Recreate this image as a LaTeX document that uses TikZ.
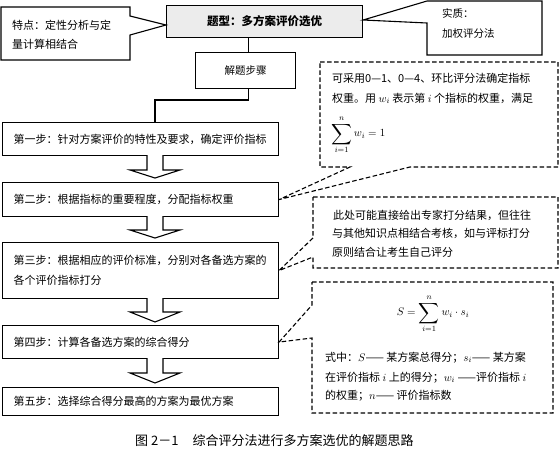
\documentclass[tikz,border=0pt]{standalone}
\usepackage{fontspec}
\newfontfamily\cjk{Noto Sans CJK SC}
\usetikzlibrary{calc}
\newcommand\bigsigma{\mathop{\vcenter{\hbox{\scalebox{1.45}{$\displaystyle\sum$}}}}\limits}
\begin{document}
\begin{tikzpicture}[x=1pt,y=-1pt,
  line/.style={line width=1.1pt,line join=miter},
  dline/.style={line width=1.1pt,dash pattern=on 4.5pt off 2.5pt},
  stepbox/.style={draw,line width=1.1pt,anchor=north west,minimum width=276pt,text width=254pt,inner xsep=11pt,inner ysep=0pt,align=left,font=\cjk\fontsize{11}{20}\selectfont},
  ln/.style={anchor=base west,inner sep=0pt,font=\cjk\fontsize{11}{13}\selectfont},
  hollow/.style={line width=1.1pt,fill=white}
]
\useasboundingbox (0,0) rectangle (560,453);

% title and heading boxes
\node[draw,line width=1.1pt,anchor=north west,minimum width=196pt,minimum height=32pt,fill=gray!15,font=\cjk\bfseries\fontsize{11.5}{13}\selectfont] (title) at (166,5) {题型：多方案评价选优};
\node[draw,line width=1.1pt,anchor=north west,minimum width=100pt,minimum height=36pt,font=\cjk\fontsize{10.5}{12}\selectfont] (jt) at (195,52) {解题步骤};

% steps
\node[stepbox,minimum height=33pt] (s1) at (2,122) {第一步：针对方案评价的特性及要求，确定评价指标};
\node[stepbox,minimum height=34pt] (s2) at (2,182) {第二步：根据指标的重要程度，分配指标权重};
\node[stepbox,minimum height=56pt] (s3) at (2,242) {第三步：根据相应的评价标准，分别对各备选方案的\\各个评价指标打分};
\node[stepbox,minimum height=33pt] (s4) at (2,325) {第四步：计算各备选方案的综合得分};
\node[stepbox,minimum height=28pt] (s5) at (2,387) {第五步：选择综合得分最高的方案为最优方案};

% connectors
\draw[line] ([xshift=3pt]jt.north) -- ([xshift=3pt]jt.north |- title.south);
\coordinate (e1) at (155,100);
\draw[line] ([xshift=3pt]jt.south) |- (e1) -- (e1 |- s1.north);

% hollow arrows between steps
\foreach \t/\h/\p in {155/170/178, 216/230/238, 298/312/322, 358/373/383}
  \draw[hollow] (147,\t) -- (147,\h) -- (130,\h) -- (155,\p) -- (180,\h) -- (163,\h) -- (163,\t);

% left callout
\draw[line] (1,7) -- (130,7) -- (130,16) -- (title.west |- 0,25) -- (130,35) -- (130,60) -- (1,60) -- cycle;
\node[ln] (l1) at (12,29) {特点：定性分析与定};
\node[ln] (l2) at (12,48) {量计算相结合};

% right callout
\draw[line] (title.east |- 0,20) -- (427,1) -- (542,1) -- (542,55) -- (427,55) -- (427,23) -- cycle;
\node[ln,font=\cjk\fontsize{10.5}{12}\selectfont] (r1) at (442,17) {实质：};
\node[ln,font=\cjk\fontsize{10.5}{12}\selectfont] (r2) at (442,37) {加权评分法};

% dashed note A
\draw[dline] (320,62) -- (558,62) -- (558,167) -- (410,167) -- (s2.east) -- (350,167) -- (320,167) -- cycle;
\node[ln] (a1) at (332,82) {可采用0—1、0—4、环比评分法确定指标};
\node[ln] (a2) at (332,102) {权重。用 $w_i$ 表示第 $i$ 个指标的权重，满足};
\node[anchor=west,inner sep=0pt,font=\fontsize{11}{13}\selectfont] (a3) at (331,135) {$\displaystyle\bigsigma_{i=1}^{n} w_i=1$};

% dashed note B
\draw[dline] (313,197) -- (558,197) -- (558,268) -- (313,268) -- (313,257) -- (s3.east) -- (313,238) -- cycle;
\node[ln] (b1) at (333,219) {此处可能直接给出专家打分结果，但往往};
\node[ln] (b2) at (332,237) {与其他知识点相结合考核，如与评标打分};
\node[ln] (b3) at (332,256) {原则结合让考生自己评分};

% dashed note C
\draw[dline] (312,282) -- (553,282) -- (553,413) -- (312,413) -- (312,338) -- (s4.east) -- (312,305) -- cycle;
\node[inner sep=0pt,font=\fontsize{11}{13}\selectfont] (c0) at (433,314) {$\displaystyle S=\bigsigma_{i=1}^{n} w_i\cdot s_i$};
\node[ln] (c1) at (325,361) {式中：$S$—— 某方案总得分；$s_i$—— 某方案};
\node[ln] (c2) at (325,381) {在评价指标 $i$ 上的得分；$w_i$ ——评价指标 $i$};
\node[ln] (c3) at (325,399) {的权重；$n$—— 评价指标数};

% caption
\node[anchor=base west,inner sep=0pt,font=\cjk\fontsize{13}{15}\selectfont] (cap) at (135,445) {图 2－1\hspace{14pt}综合评分法进行多方案选优的解题思路};
\end{tikzpicture}
\end{document}
